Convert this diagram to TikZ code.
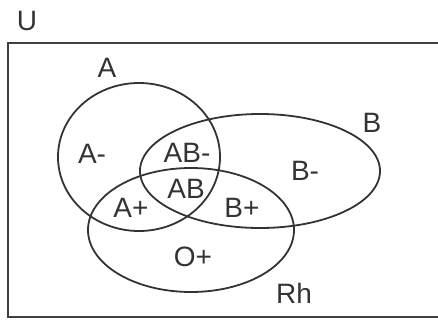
\documentclass[tikz,border=0pt]{standalone}
\usepackage{fontspec}
\setmainfont{Liberation Sans}
\begin{document}
\begin{tikzpicture}[x=1pt,y=-1pt,
  setline/.style={line width=1.8pt, draw=black!80},
  lbl/.style={font=\fontsize{28}{28}\selectfont, text=black!80, inner sep=0pt}]
\useasboundingbox (0,0) rectangle (438,321);
\draw[line width=2.2pt, draw=black!75] (445,43) -- (8,43) -- (8,317) -- (445,317);
\draw[setline] (139,157) ellipse [x radius=81, y radius=74];
\draw[setline] (260,171) ellipse [x radius=120, y radius=57];
\draw[setline] (191,230) ellipse [x radius=103, y radius=62];
\node[lbl] (u) at (27,21) {U};
\node[lbl] (a) at (107,68) {A};
\node[lbl] (b) at (372,123) {B};
\node[lbl] (am) at (92,154) {A-};
\node[lbl] (abm) at (187,153) {AB-};
\node[lbl] (bm) at (305,171) {B-};
\node[lbl] (ab) at (186,189) {AB};
\node[lbl] (ap) at (131,208) {A+};
\node[lbl] (bp) at (242,208) {B+};
\node[lbl] (op) at (193,257) {O+};
\node[lbl] (rh) at (294,293) {Rh};
\end{tikzpicture}
\end{document}
